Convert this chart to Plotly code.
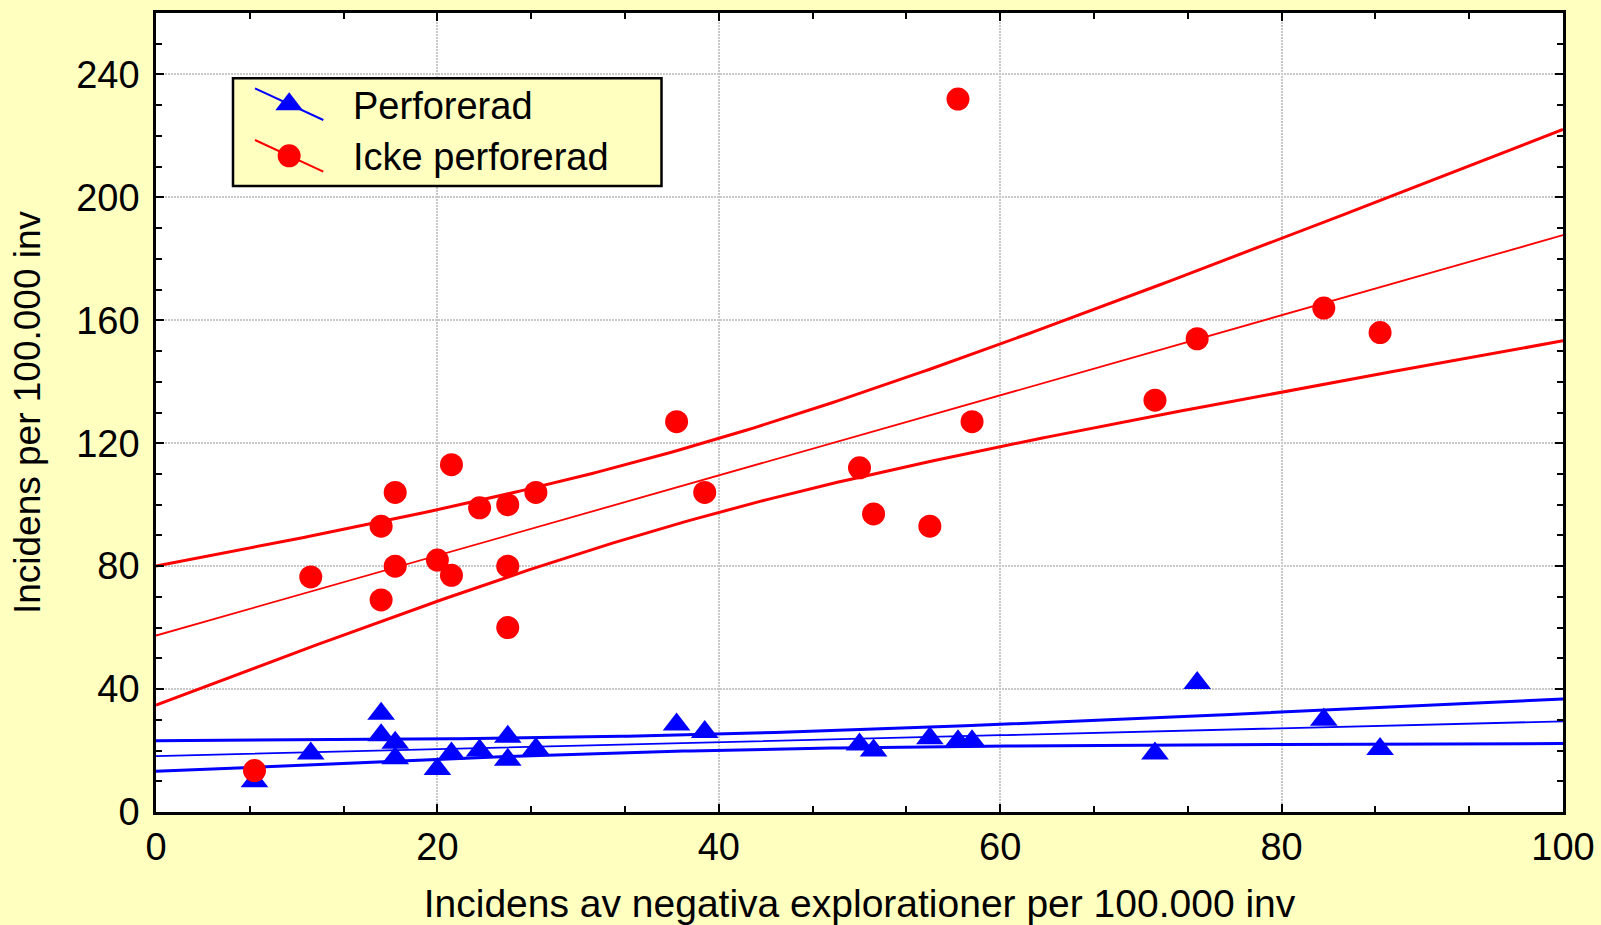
import numpy as np
import plotly.graph_objects as go

# Incidence of negative explorations (x) against incidence per 100 000 (y)
perf_x = [7, 11, 16, 16, 17, 17, 20, 21, 23, 25, 25, 27, 37, 39, 50, 51, 55, 57, 58, 71, 74, 83, 87]
perf_y = [10, 19, 32, 25, 22.5, 17.5, 14, 19, 20, 24.5, 17, 20.5, 28.5, 26, 22, 20, 24, 23, 23, 19, 42, 30, 20.5]

icke_x = [7, 11, 16, 16, 17, 17, 20, 21, 21, 23, 25, 25, 25, 27, 37, 39, 50, 51, 55, 57, 58, 71, 74, 83, 87]
icke_y = [13.5, 76.5, 93, 69, 104, 80, 82, 113, 77, 99, 100, 80, 60, 104, 127, 104, 112, 97, 93, 232, 127, 134, 154, 164, 156]

series_names = ["Perforerad", "Icke perforerad"]
x_ticks = [0, 20, 40, 60, 80, 100]
y_ticks = [0, 40, 80, 120, 160, 200, 240]

# two-sided 95 % Student t critical values by degrees of freedom
T975 = {19: 2.0930, 20: 2.0860, 21: 2.0796, 22: 2.0739, 23: 2.0687, 24: 2.0639, 25: 2.0595}

BLUE = "#0000FF"
RED = "#FF0000"
PAPER = "#FFFFC0"
FONT = "Liberation Sans, Arial, sans-serif"

W, H = 1601, 925
ML, MR, MT, MB = 156, 38, 13, 113
XR = (0, 100)
YR = (0, 260)


def fit_band(xs, ys, grid):
    """Least-squares line and 95 % confidence band for the mean."""
    xs = np.asarray(xs, float)
    ys = np.asarray(ys, float)
    n = len(xs)
    slope, icpt = np.polyfit(xs, ys, 1)
    resid = ys - (icpt + slope * xs)
    s = np.sqrt(np.sum(resid ** 2) / (n - 2))
    sxx = np.sum((xs - xs.mean()) ** 2)
    yhat = icpt + slope * grid
    half = T975[n - 2] * s * np.sqrt(1.0 / n + (grid - xs.mean()) ** 2 / sxx)
    return yhat, yhat - half, yhat + half


grid = np.linspace(XR[0], XR[1], 201)

fig = go.Figure()


def add_fit(xs, ys, color):
    yhat, lo, hi = fit_band(xs, ys, grid)
    for arr, w in ((hi, 3), (yhat, 1.8), (lo, 3)):
        fig.add_trace(go.Scatter(x=grid, y=arr, mode="lines",
                                 line=dict(color=color, width=w),
                                 hoverinfo="skip", showlegend=False))


TRI_SIZE = 24
DOT_SIZE = 23

add_fit(perf_x, perf_y, BLUE)
fig.add_trace(go.Scatter(x=perf_x, y=perf_y, mode="markers", name=series_names[0],
                         marker=dict(symbol="triangle-up", size=TRI_SIZE, color=BLUE,
                                     line=dict(width=0)),
                         showlegend=False))
add_fit(icke_x, icke_y, RED)
fig.add_trace(go.Scatter(x=icke_x, y=icke_y, mode="markers", name=series_names[1],
                         marker=dict(symbol="circle", size=DOT_SIZE, color=RED,
                                     line=dict(width=0)),
                         showlegend=False))

# ---- hand-drawn legend box (positions given in screen pixels) ----
pw = W - ML - MR
ph = H - MT - MB


def px_x(px):
    return XR[0] + (px - ML) / pw * (XR[1] - XR[0])


def px_y(py):
    return YR[0] + (MT + ph - py) / ph * (YR[1] - YR[0])


shapes = [dict(type="rect", xref="x", yref="y", layer="between",
               x0=px_x(233), x1=px_x(661.5), y0=px_y(186), y1=px_y(78.3),
               fillcolor=PAPER, line=dict(color="black", width=2.5))]

glyph_rows = [  # (line start, line end, colour, symbol, size, text centre y)
    ((255, 88.3), (323.3, 120.0), BLUE, "triangle-up", TRI_SIZE, 106),
    ((255, 140.0), (323.3, 171.7), RED, "circle", DOT_SIZE, 157),
]
annotations = []
for (p0, p1, col, sym, sz, ty), label in zip(glyph_rows, series_names):
    shapes.append(dict(type="line", xref="x", yref="y", layer="between",
                       x0=px_x(p0[0]), y0=px_y(p0[1]), x1=px_x(p1[0]), y1=px_y(p1[1]),
                       line=dict(color=col, width=2)))
    mx = (p0[0] + p1[0]) / 2
    my = (p0[1] + p1[1]) / 2
    fig.add_trace(go.Scatter(x=[px_x(mx)], y=[px_y(my)], mode="markers",
                             marker=dict(symbol=sym, size=sz, color=col, line=dict(width=0)),
                             hoverinfo="skip", showlegend=False))
    annotations.append(dict(x=px_x(351), y=px_y(ty), xref="x", yref="y",
                            text=label, showarrow=False, xanchor="left", yanchor="middle",
                            font=dict(family=FONT, size=38, color="black")))

axis_common = dict(
    showline=True, linecolor="black", linewidth=2.5, mirror="allticks",
    ticks="inside", ticklen=8, tickwidth=2, tickcolor="black",
    showgrid=True, gridcolor="#C8C8C8", gridwidth=2, griddash="2px,1px",
    zeroline=False, automargin=False,
    tickfont=dict(family=FONT, size=38, color="black"),
)

fig.update_layout(
    width=W, height=H,
    margin=dict(l=ML, r=MR, t=MT, b=MB),
    paper_bgcolor=PAPER, plot_bgcolor="white",
    font=dict(family=FONT, color="black"),
    xaxis=dict(range=list(XR), tickvals=x_ticks, ticklabelstandoff=0,
               minor=dict(dtick=20 / 3, tick0=0, ticks="inside", ticklen=6,
                          tickwidth=2, tickcolor="black", showgrid=False),
               title=dict(text="Incidens av negativa explorationer per 100.000 inv",
                          font=dict(family=FONT, size=39, color="black"), standoff=25),
               **axis_common),
    yaxis=dict(range=list(YR), tickvals=y_ticks, ticklabelstandoff=6,
               minor=dict(dtick=10, tick0=0, ticks="inside", ticklen=6,
                          tickwidth=2, tickcolor="black", showgrid=False),
               title=dict(text="Incidens per 100.000 inv",
                          font=dict(family=FONT, size=37, color="black"), standoff=25),
               **axis_common),
    shapes=shapes,
    annotations=annotations,
    showlegend=False,
)

fig.write_html("out.html")
